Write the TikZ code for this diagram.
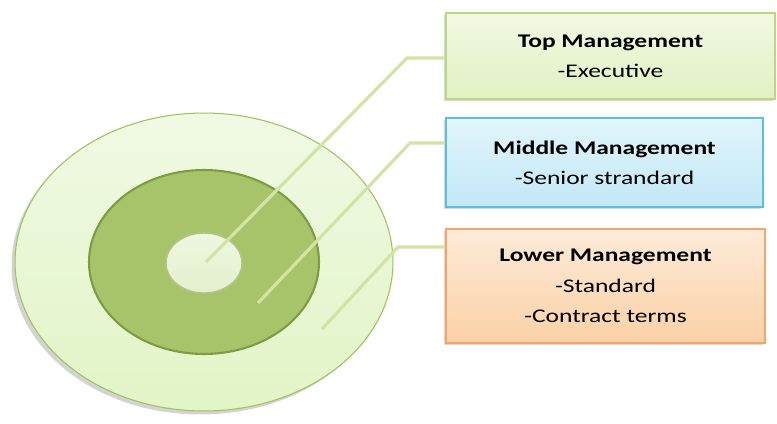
\documentclass[tikz,border=0pt]{standalone}
\usepackage{fontspec}
\setmainfont{Carlito}[FakeStretch=1.32]
\usetikzlibrary{shapes.geometric,shadows}
\definecolor{ringout}{HTML}{F0F9E4}
\definecolor{ringoutb}{HTML}{E2F5C6}
\definecolor{ringedge}{HTML}{9FC25A}
\definecolor{ringmid}{HTML}{A8C46A}
\definecolor{ringmidb}{HTML}{7E9C42}
\definecolor{ringin}{HTML}{EEF7DF}
\definecolor{lineg}{HTML}{D2E4A4}
\definecolor{topf}{HTML}{F1F9E3}
\definecolor{topg}{HTML}{E2F1C2}
\definecolor{topb}{HTML}{BCD77E}
\definecolor{midf}{HTML}{E2F5FC}
\definecolor{midg}{HTML}{C2E8F6}
\definecolor{midb}{HTML}{5CBFDB}
\definecolor{lowf}{HTML}{FDEBD9}
\definecolor{lowg}{HTML}{FBD1A6}
\definecolor{lowb}{HTML}{F4A66A}
\tikzset{
    EL/.style ={ellipse, inner sep=0pt},
    BX/.style ={rectangle, align=center, inner sep=0pt, line width=0.9pt,
        font=\fontsize{11}{17.2}\selectfont,
        drop shadow={shadow xshift=-1.4pt, shadow yshift=-1.4pt, opacity=0.3}},
    LN/.style ={draw=lineg, line width=1.8pt}}

\begin{document}
\begin{tikzpicture}[x=0.02cm,y=0.02cm]
    \useasboundingbox (0,0) rectangle (777,423);
    % rings
    \node[EL, minimum width=7.56cm, minimum height=5.96cm, draw=ringedge, line width=0.6pt,
        top color=ringout, bottom color=ringoutb,
        drop shadow={shadow xshift=-2pt, shadow yshift=-2pt, opacity=0.35}] (outer) at (204,161) {};
    \node[EL, minimum width=4.6cm, minimum height=3.68cm, draw=ringmidb, line width=1.2pt,
        fill=ringmid] (middle) at (204,161) {};
    \node[EL, minimum width=1.52cm, minimum height=1.2cm, draw=ringmidb!60, line width=0.8pt,
        top color=ringin, bottom color=ringin!85!ringmid] (inner) at (204,160) {};
    % boxes
    \node[BX, minimum width=6.58cm, minimum height=1.72cm, draw=topb,
        top color=topf, bottom color=topg] (top) at (610.5,367)
        {\textbf{Top Management}\\-Executive};
    \node[BX, minimum width=6.34cm, minimum height=1.78cm, draw=midb,
        top color=midf, bottom color=midg] (mid) at (604.5,260.5)
        {\textbf{Middle Management}\\-Senior strandard};
    \node[BX, minimum width=6.38cm, minimum height=2.28cm, draw=lowb,
        top color=lowf, bottom color=lowg] (low) at (605.5,137)
        {\textbf{Lower Management}\\-Standard\\-Contract terms};
    % connectors
    \coordinate (d1) at (206,161);
    \coordinate (k1) at (407,365);
    \coordinate (d2) at (258,120);
    \coordinate (k2) at (410,280);
    \coordinate (d3) at (322,94);
    \coordinate (k3) at (398,176);
    \draw[LN] (d1) -- (k1) -- (k1 -| top.west);
    \draw[LN] (d2) -- (k2) -- (k2 -| mid.west);
    \draw[LN] (d3) -- (k3) -- (k3 -| low.west);
\end{tikzpicture}
\end{document}
